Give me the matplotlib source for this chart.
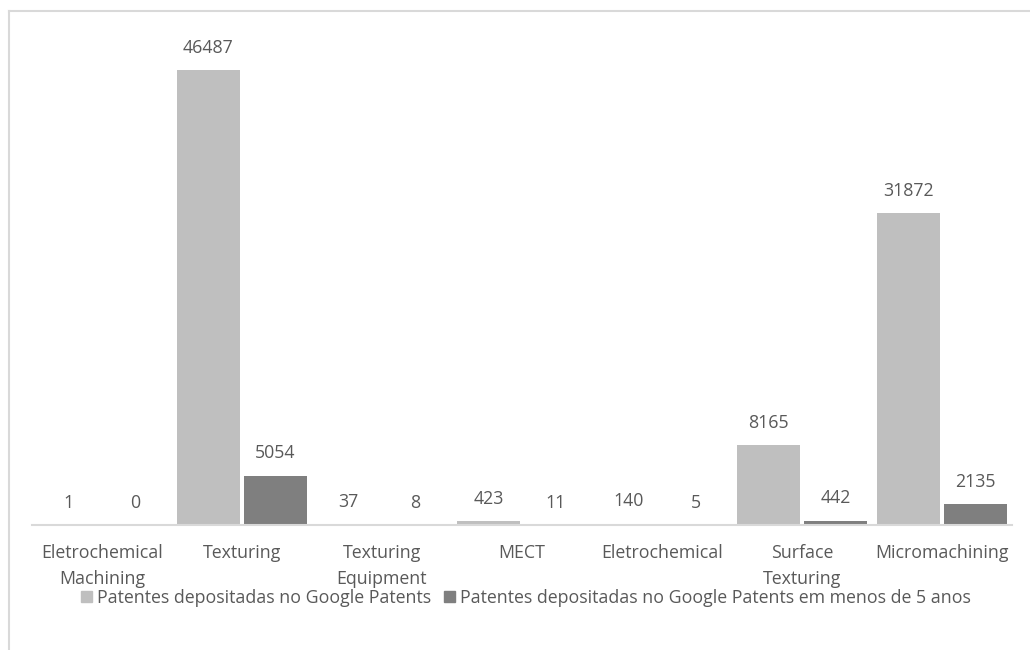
import matplotlib
matplotlib.use("Agg")
import matplotlib.pyplot as plt
from matplotlib.lines import Line2D
from matplotlib.patches import Patch
import numpy as np

categories = ["Eletrochemical\nMachining", "Texturing", "Texturing\nEquipment", "MECT",
              "Eletrochemical", "Surface\nTexturing", "Micromachining"]
total_patents = [1, 46487, 37, 423, 140, 8165, 31872]
recent_patents = [0, 5054, 8, 11, 5, 442, 2135]
series_names = ["Patentes depositadas no Google Patents",
                "Patentes depositadas no Google Patents em menos de 5 anos"]

light = "#BFBFBF"
dark = "#7F7F7F"
text_color = "#595959"
grid_color = "#D9D9D9"

plt.rcParams["font.family"] = ["Open Sans", "DejaVu Sans"]

W, H = 1030, 650
fig = plt.figure(figsize=(W / 100, H / 100), dpi=100)
ax = fig.add_axes([32 / W, 125 / H, (1012 - 32) / W, (525 - 35.6) / H])

x = np.arange(len(categories))
bw = 0.45
off = 0.24
b1 = ax.bar(x - off, total_patents, bw, color=light)
b2 = ax.bar(x + off, recent_patents, bw, color=dark)

for bars, vals in ((b1, total_patents), (b2, recent_patents)):
    for rect, v in zip(bars, vals):
        ax.annotate(f"{v}", (rect.get_x() + rect.get_width() / 2, v),
                    xytext=(0, 9.5), textcoords="offset points",
                    ha="center", va="bottom", fontsize=12.8, color=text_color)

ax.set_xlim(-0.5, len(categories) - 0.5)
ax.set_ylim(0, 50000)
ax.set_xticks(x)
ax.set_xticklabels(categories, fontsize=12.8, color=text_color, linespacing=1.55)
ax.tick_params(axis="x", length=0, pad=14)
ax.set_yticks([])
for s in ("top", "right", "left"):
    ax.spines[s].set_visible(False)
ax.spines["bottom"].set_color(grid_color)
ax.spines["bottom"].set_linewidth(1.5)

handles = [Patch(color=light), Patch(color=dark)]
fig.legend(handles, series_names, loc="center", bbox_to_anchor=(526 / W, (H - 598) / H),
           ncol=2, frameon=False, fontsize=12.8, labelcolor=text_color,
           handlelength=0.6, handleheight=0.6, handletextpad=0.3, columnspacing=0.7)

# chart area border (open at right and bottom)
fig.add_artist(Line2D([9 / W, 1.0], [1 - 11 / H, 1 - 11 / H], color=grid_color, lw=1.5))
fig.add_artist(Line2D([9 / W, 9 / W], [0.0, 1 - 11 / H], color=grid_color, lw=1.5))

fig.savefig("out.png", dpi=100)
